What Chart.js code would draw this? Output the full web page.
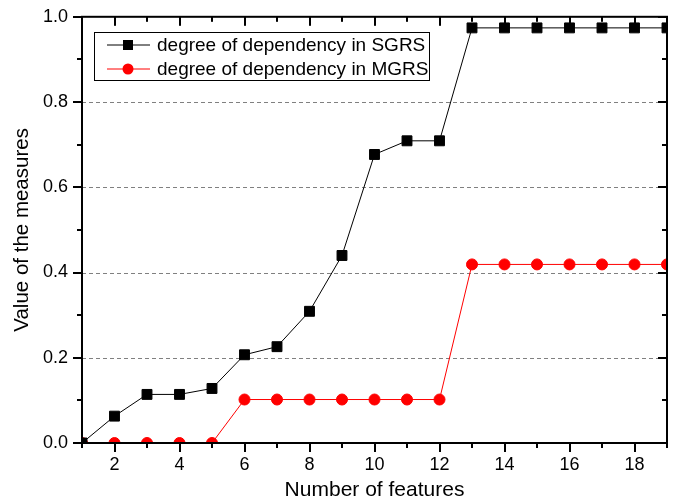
<!DOCTYPE html>
<html>
<head>
<meta charset="utf-8">
<script src="https://cdn.jsdelivr.net/npm/chart.js@4.4.0/dist/chart.umd.min.js"></script>
<style>
  html, body { margin: 0; padding: 0; background: #fff; }
  #wrap { width: 678px; height: 503px; }
</style>
</head>
<body>
<div id="wrap"><canvas id="featChart"></canvas></div>
<script>
const features = [1, 2, 3, 4, 5, 6, 7, 8, 9, 10, 11, 12, 13, 14, 15, 16, 17, 18, 19];
const sgrsValues = [0, 0.063, 0.114, 0.114, 0.128, 0.207, 0.226, 0.309, 0.44, 0.677, 0.709, 0.709, 0.974, 0.974, 0.974, 0.974, 0.974, 0.974, 0.974];
const mgrsValues = [0, 0, 0, 0, 0, 0.102, 0.102, 0.102, 0.102, 0.102, 0.102, 0.102, 0.419, 0.419, 0.419, 0.419, 0.419, 0.419, 0.419];
const xTickLabels = [2, 4, 6, 8, 10, 12, 14, 16, 18];
const yTickLabels = [0, 0.2, 0.4, 0.6, 0.8, 1.0];
const gridValues = [0.2, 0.4, 0.6, 0.8];

const FONT = '"Liberation Sans", Arial, sans-serif';

// frame, dashed grid, ticks on all four sides, legend box
const framePlugin = {
    id: 'frame',
    beforeDatasetsDraw(chart) {
        const { ctx, chartArea: a, scales: { y } } = chart;
        ctx.save();
        ctx.strokeStyle = '#808080';
        ctx.lineWidth = 1;
        ctx.setLineDash([4, 3]);
        gridValues.forEach(v => {
            const py = Math.round(y.getPixelForValue(v)) + 0.5;
            ctx.beginPath();
            ctx.moveTo(a.left, py);
            ctx.lineTo(a.right, py);
            ctx.stroke();
        });
        ctx.restore();
    },
    afterDraw(chart) {
        const { ctx, chartArea: a } = chart;
        const xs = chart.scales.x, ys = chart.scales.y;
        ctx.save();
        ctx.setLineDash([]);
        ctx.strokeStyle = '#000';
        ctx.lineWidth = 2;
        ctx.strokeRect(a.left, a.top, a.right - a.left, a.bottom - a.top);

        ctx.fillStyle = '#000';
        for (let v = 1; v <= 19; v++) {
            const px = Math.round(xs.getPixelForValue(v));
            const len = v % 2 === 0 ? 9 : 5;
            ctx.fillRect(px - 1, a.bottom, 2, len);
            ctx.fillRect(px - 1, a.top, 2, len);
        }
        for (let i = 0; i <= 10; i++) {
            const py = Math.round(ys.getPixelForValue(i / 10));
            const len = i % 2 === 0 ? 9 : 5;
            ctx.fillRect(a.left - len, py - 1, len, 2);
            ctx.fillRect(a.right - len, py - 1, len, 2);
        }

        // legend
        const lx = 94, ly = 32, lw = 335, lh = 48;
        ctx.fillStyle = '#fff';
        ctx.fillRect(lx, ly, lw, lh);
        ctx.strokeStyle = '#000';
        ctx.lineWidth = 1;
        ctx.strokeRect(lx + 0.5, ly + 0.5, lw, lh);
        chart.data.datasets.forEach((ds, i) => {
            const cy = 45 + i * 24;
            ctx.strokeStyle = ds.borderColor;
            ctx.lineWidth = 1;
            ctx.beginPath();
            ctx.moveTo(107, cy);
            ctx.lineTo(150, cy);
            ctx.stroke();
            ctx.fillStyle = ds.backgroundColor;
            if (ds.pointStyle === 'rect') {
                ctx.fillRect(123, cy - 5, 10, 10);
            } else {
                ctx.beginPath();
                ctx.arc(128, cy, 5.5, 0, Math.PI * 2);
                ctx.fill();
            }
            ctx.fillStyle = '#000';
            ctx.font = '19px ' + FONT;
            ctx.textBaseline = 'middle';
            ctx.fillText(ds.label, 157, cy + 1);
        });
        ctx.restore();
    }
};

new Chart(document.getElementById('featChart'), {
    type: 'line',
    data: {
        datasets: [{
            label: 'degree of dependency in SGRS',
            data: features.map((f, i) => ({ x: f, y: sgrsValues[i] })),
            borderColor: '#000',
            backgroundColor: '#000',
            borderWidth: 1,
            pointStyle: 'rect',
            pointRadius: 7,
            clip: 0
        }, {
            label: 'degree of dependency in MGRS',
            data: features.map((f, i) => ({ x: f, y: mgrsValues[i] })),
            borderColor: '#ff0000',
            backgroundColor: '#ff0000',
            borderWidth: 1,
            pointStyle: 'circle',
            pointRadius: 5.5,
            clip: 0
        }]
    },
    options: {
        responsive: true,
        maintainAspectRatio: false,
        animation: false,
        layout: { padding: { top: 13, right: 11, left: 0, bottom: 0 } },
        plugins: { legend: { display: false }, tooltip: { enabled: false } },
        scales: {
            x: {
                type: 'linear',
                min: 1,
                max: 19,
                afterBuildTicks: s => { s.ticks = xTickLabels.map(v => ({ value: v })); },
                afterFit: s => { s.height = 60; },
                grid: { display: false },
                border: { display: false },
                ticks: { color: '#000', font: { family: FONT, size: 18 }, padding: 3, maxRotation: 0 },
                title: { display: true, text: 'Number of features', color: '#000', font: { family: FONT, size: 21 }, padding: { top: 0, bottom: 0 } }
            },
            y: {
                min: 0,
                max: 1.0,
                afterBuildTicks: s => { s.ticks = yTickLabels.map(v => ({ value: v })); },
                afterFit: s => { s.width = 82; },
                grid: { display: false },
                border: { display: false },
                ticks: { color: '#000', font: { family: FONT, size: 18 }, padding: 6, callback: v => v.toFixed(1) },
                title: { display: true, text: 'Value of the measures', color: '#000', font: { family: FONT, size: 20.5 }, padding: { top: 10, bottom: 0 } }
            }
        }
    },
    plugins: [framePlugin]
});
</script>
</body>
</html>
